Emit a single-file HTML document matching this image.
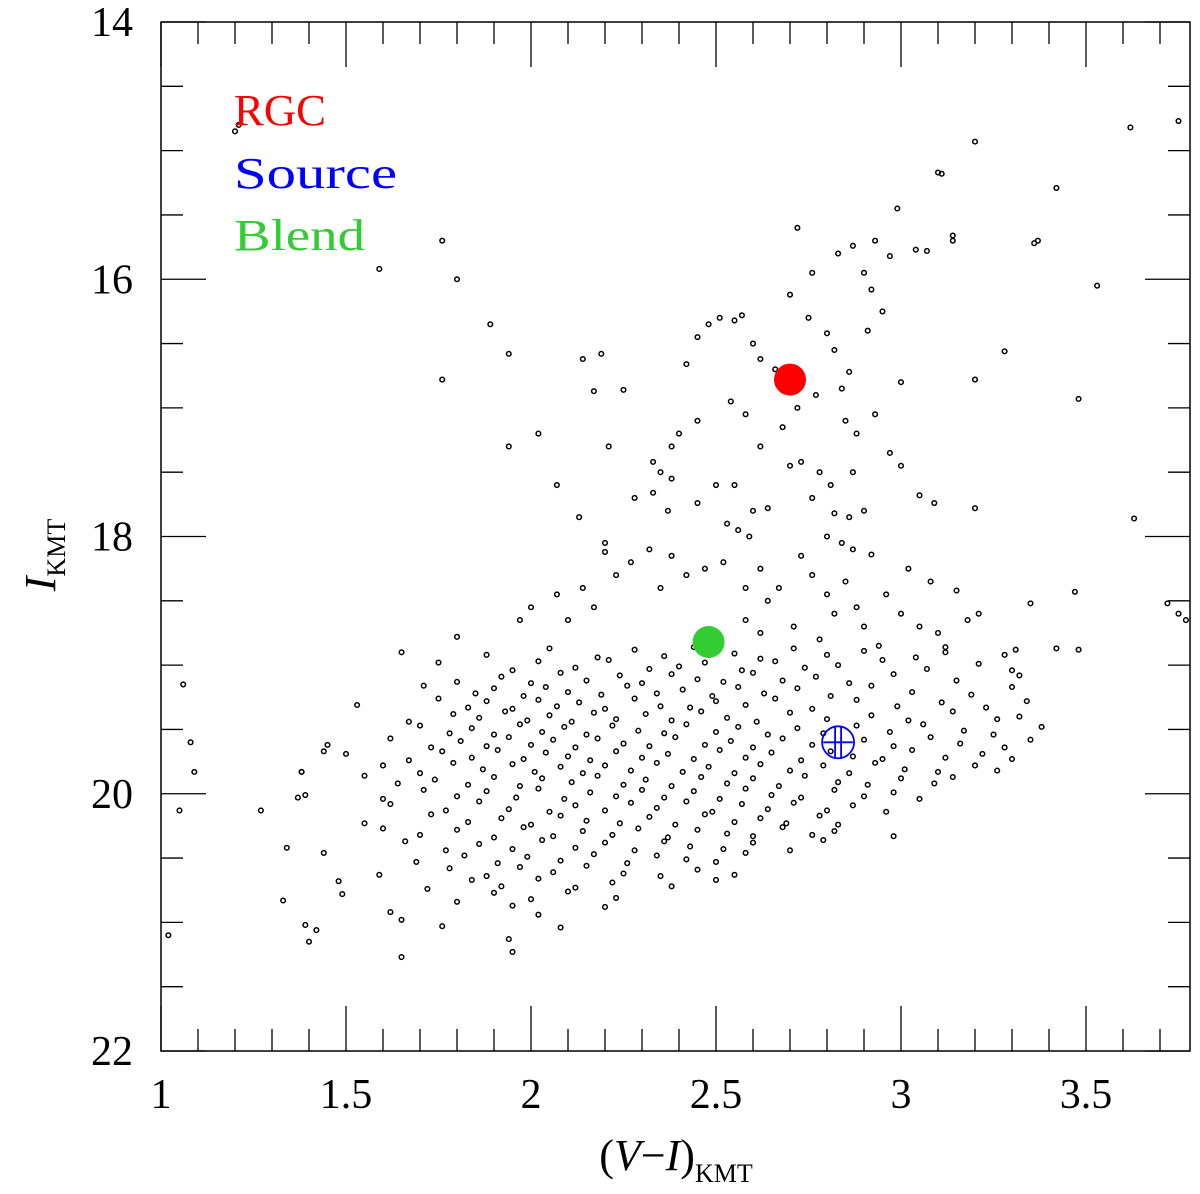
<!DOCTYPE html>
<html><head><meta charset="utf-8"><style>
html,body{margin:0;padding:0;background:#fff;width:1200px;height:1194px;overflow:hidden}
svg{display:block}
text{font-family:"Liberation Serif",serif}
</style></head><body>
<svg id="chart" width="1200" height="1194" viewBox="0 0 1200 1194" xmlns="http://www.w3.org/2000/svg"></svg>
<script>
const xTicks=[1,1.5,2,2.5,3,3.5];
const xTickLabels=["1","1.5","2","2.5","3","3.5"];
const yTicks=[14,16,18,20,22];
const yTickLabels=["14","16","18","20","22"];
const sparseColor=[1.2,1.21,3.2,3.62,3.75,3.1,3.11,3.42,2.99,3.14,3.14,3.37,3.36,1.76,1.59,1.8,3.04,3.07,2.93,2.87,2.83,2.72,2.76,2.9,2.97,2.92,3.53,2.7,2.95,2.91,1.89,1.94,2.14,2.19,2.51,2.55,2.57,2.45,2.48,2.75,2.8,3.28,3.2,3.0,3.48,1.76,2.17,2.25,2.42,2.6,2.62,2.66,2.82,2.86,2.77,2.84,2.72,2.85,2.88,2.93,2.68,2.58,2.54,2.45,2.4,2.38,2.62,2.7,2.73,2.78,2.81,2.87,2.97,3.0,3.05,3.09,3.2,3.63,1.94,2.02,2.21,2.33,2.35,2.38,2.07,2.28,2.33,2.37,2.45,2.5,2.55,2.6,2.64,2.53,2.56,2.59,2.86,2.9,2.76,2.82,2.8,2.84,2.87,2.92,3.02,3.08,3.15,3.21,3.18,3.35,3.47,3.48,3.42,3.72,3.75,3.77,2.13,2.2,2.2,2.27,2.32,2.38,2.23,2.14,2.07,2.0,1.97,2.1,2.17,2.35,2.42,2.47,2.52,2.58,2.62,2.64,2.67,2.73,2.76,2.8,2.85,2.88,2.96,3.0,3.05,3.1,3.12,2.9,2.94,2.82,2.78,2.71,2.62,2.58,1.8,1.65,1.06,1.08,1.09,1.05,1.27,1.38,1.37,1.44];
const sparseMag=[14.85,14.8,14.93,14.82,14.77,15.17,15.18,15.29,15.45,15.66,15.7,15.7,15.72,15.7,15.92,16.0,15.77,15.78,15.7,15.74,15.8,15.6,15.95,15.95,15.82,16.08,16.05,16.12,16.25,16.4,16.35,16.58,16.62,16.58,16.3,16.32,16.28,16.45,16.35,16.3,16.42,16.56,16.78,16.8,16.93,16.78,16.87,16.86,16.66,16.5,16.62,16.7,16.55,16.72,16.9,16.85,17.0,17.1,17.2,17.05,17.15,17.05,16.95,17.1,17.2,17.3,17.3,17.45,17.42,17.5,17.6,17.5,17.35,17.45,17.68,17.74,17.78,17.86,17.3,17.2,17.3,17.42,17.5,17.55,17.6,17.7,17.66,17.8,17.74,17.6,17.6,17.8,17.78,17.9,17.95,18.0,17.85,17.8,17.7,17.82,18.0,18.05,18.1,18.14,18.25,18.35,18.42,18.6,18.65,18.52,18.43,18.88,18.87,18.52,18.6,18.65,17.85,18.05,18.12,18.2,18.1,18.15,18.3,18.4,18.45,18.55,18.65,18.65,18.55,18.4,18.3,18.25,18.2,18.4,18.25,18.5,18.4,18.15,18.3,18.45,18.35,18.55,18.45,18.6,18.7,18.75,18.9,18.7,18.85,18.6,18.8,18.7,18.75,18.65,18.78,18.9,19.15,19.6,19.83,20.13,20.13,19.83,20.03,19.67];
const rowMags=[18.9,19.0,19.1,19.2,19.3,19.4,19.5,19.6,19.7,19.8,19.9,20.0,20.1,20.2,20.3,20.4,20.5,20.6,20.7,20.8,20.9,21.0,21.1,21.2];
const rowColors=[
[1.88,2.05,2.18,2.28,2.36,2.44,2.55,2.62,2.71,2.8,2.9,3.04,3.12,3.28,3.31],
[1.75,1.95,2.02,2.12,2.21,2.32,2.4,2.47,2.57,2.66,2.74,2.83,2.95,3.07,3.21,3.3],
[1.8,1.92,2.0,2.08,2.15,2.24,2.3,2.38,2.45,2.52,2.6,2.68,2.77,2.86,2.98,3.15,3.32],
[1.71,1.85,1.9,1.98,2.04,2.1,2.19,2.26,2.34,2.41,2.49,2.56,2.63,2.72,2.81,2.92,3.03,3.19,3.3],
[1.53,1.75,1.83,1.88,1.95,2.02,2.07,2.13,2.2,2.28,2.35,2.43,2.5,2.58,2.66,2.76,2.88,2.99,3.11,3.23,3.34],
[1.67,1.79,1.86,1.93,1.99,2.05,2.11,2.17,2.23,2.31,2.38,2.46,2.53,2.61,2.7,2.8,2.92,3.02,3.14,3.26,3.32],
[1.7,1.78,1.84,1.9,1.97,2.03,2.09,2.15,2.22,2.29,2.36,2.42,2.5,2.56,2.64,2.72,2.79,2.88,2.97,3.06,3.17,3.25,3.38],
[1.45,1.62,1.73,1.81,1.88,1.94,2.0,2.06,2.12,2.18,2.25,2.32,2.39,2.47,2.54,2.6,2.68,2.76,2.9,2.98,3.08,3.16,3.28,3.35],
[1.5,1.67,1.76,1.84,1.91,1.98,2.04,2.1,2.16,2.23,2.3,2.37,2.44,2.51,2.58,2.65,2.73,2.81,2.87,2.95,3.03,3.12,3.22,3.3],
[1.38,1.6,1.7,1.79,1.87,1.95,2.01,2.08,2.14,2.2,2.27,2.34,2.41,2.48,2.55,2.62,2.7,2.79,2.86,2.93,3.01,3.1,3.2,3.26],
[1.55,1.64,1.74,1.83,1.9,1.97,2.03,2.11,2.18,2.25,2.31,2.38,2.46,2.53,2.6,2.67,2.74,2.83,2.91,3.0,3.09,3.14],
[1.39,1.6,1.71,1.8,1.88,1.96,2.02,2.09,2.16,2.23,2.3,2.36,2.44,2.51,2.58,2.65,2.73,2.82,2.9,2.98,3.05],
[1.62,1.77,1.86,1.94,2.05,2.12,2.2,2.27,2.34,2.42,2.49,2.57,2.64,2.71,2.8,2.87,2.96],
[1.55,1.73,1.83,1.92,2.0,2.08,2.15,2.24,2.32,2.39,2.47,2.55,2.62,2.69,2.78,2.83],
[1.6,1.7,1.8,1.9,1.98,2.06,2.14,2.22,2.29,2.37,2.45,2.53,2.6,2.68,2.76,2.82,2.98],
[1.34,1.66,1.77,1.86,1.95,2.03,2.12,2.2,2.28,2.36,2.43,2.52,2.6,2.7,2.79],
[1.44,1.69,1.82,1.91,1.99,2.08,2.17,2.26,2.34,2.42,2.5,2.58],
[1.59,1.78,1.88,1.97,2.06,2.15,2.25,2.35,2.45,2.55],
[1.48,1.72,1.84,1.92,2.02,2.12,2.22,2.38,2.5],
[1.33,1.49,1.8,1.9,2.0,2.1,2.23],
[1.62,1.95,2.02,2.2],
[1.39,1.65,1.76,2.08],
[1.02,1.42,1.94],
[1.4,1.95,1.65]];
const rowOffsets=[
[0.02,-0.03,0.04,-0.02,0.03,-0.04,0.01,0.05,-0.03,0.02,-0.01,0.04,-0.04,0.02,-0.02],
[-0.02,0.04,-0.03,0.02,-0.04,0.03,0.01,-0.02,0.04,-0.03,0.02,0.0,-0.04,0.03,-0.01,0.04],
[0.03,-0.01,0.04,-0.04,0.02,-0.02,0.04,-0.03,0.01,0.03,-0.04,0.02,-0.01,0.04,-0.03,0.02,-0.02],
[-0.04,0.02,-0.02,0.04,-0.03,0.01,0.03,-0.04,0.02,-0.01,0.04,-0.03,0.02,-0.02,0.04,-0.04,0.01,0.03,-0.03],
[0.01,-0.04,0.03,-0.02,0.04,-0.03,0.02,-0.01,0.04,-0.04,0.02,0.03,-0.02,0.01,-0.04,0.04,-0.03,0.02,-0.01,0.03,-0.02],
[0.04,-0.02,0.01,-0.04,0.03,-0.01,0.04,-0.03,0.02,-0.02,0.03,-0.04,0.01,0.04,-0.03,0.02,-0.01,0.03,-0.04,0.02,0.0],
[-0.03,0.03,-0.01,0.04,-0.04,0.02,-0.02,0.04,-0.03,0.01,0.03,-0.04,0.02,-0.02,0.04,-0.01,0.03,-0.03,0.02,-0.04,0.01,0.04,-0.02],
[0.02,-0.03,0.04,-0.01,0.03,-0.04,0.02,-0.02,0.04,-0.03,0.01,0.03,-0.04,0.02,-0.01,0.04,-0.03,0.02,-0.02,0.03,-0.04,0.01,0.04,-0.02],
[-0.01,0.04,-0.03,0.02,-0.04,0.03,-0.02,0.01,0.04,-0.03,0.02,-0.01,0.03,-0.04,0.02,-0.02,0.04,-0.03,0.01,0.03,-0.04,0.02,-0.01,0.03],
[0.03,-0.02,0.04,-0.04,0.01,-0.03,0.03,-0.01,0.04,-0.02,0.02,-0.04,0.03,-0.01,0.04,-0.03,0.02,-0.02,0.04,-0.04,0.01,0.03,-0.02,0.02],
[-0.04,0.02,-0.01,0.03,-0.03,0.04,-0.02,0.01,-0.04,0.03,-0.01,0.04,-0.03,0.02,-0.02,0.04,-0.04,0.01,0.03,-0.02,0.02,-0.03],
[0.01,0.04,-0.03,0.02,-0.02,0.03,-0.04,0.04,-0.01,0.02,-0.03,0.03,-0.02,0.04,-0.04,0.01,0.03,-0.03,0.02,-0.01,0.04],
[-0.02,0.03,-0.04,0.02,0.04,-0.01,0.03,-0.03,0.01,-0.04,0.04,-0.02,0.02,-0.03,0.03,-0.01,0.04],
[0.03,-0.04,0.02,-0.01,0.04,-0.03,0.01,0.03,-0.02,0.04,-0.04,0.02,-0.01,0.03,-0.03,0.04],
[-0.03,0.02,-0.02,0.04,-0.04,0.03,-0.01,0.02,-0.03,0.04,-0.02,0.01,0.03,-0.04,0.02,-0.01,0.03],
[0.02,-0.03,0.04,-0.01,0.03,-0.04,0.02,-0.02,0.04,-0.03,0.01,0.03,-0.02,0.04,-0.04],
[-0.04,0.03,-0.02,0.04,-0.01,0.02,-0.03,0.04,-0.02,0.01,0.03,-0.04],
[0.03,-0.02,0.04,-0.03,0.01,-0.04,0.02,0.04,-0.01,0.03],
[-0.02,0.04,-0.03,0.02,-0.04,0.03,-0.01,0.02,-0.03],
[0.03,-0.02,0.04,-0.03,0.02,-0.04,0.01],
[0.02,-0.03,0.04,-0.02],
[0.02,-0.02,0.03,0.04],
[0.0,-0.04,0.03],
[-0.05,0.03,0.07]];
const rgcPoint=[2.70,16.78];
const sourcePoint=[2.83,19.6];
const sourceErr=[0.04,0.12];
const blendPoint=[2.48,18.82];

const NS="http://www.w3.org/2000/svg";
const svg=document.getElementById('chart');
const L=161,R=1190,T=22,B=1051,X0=1,X1=1+(R-L)/370,Y0=14,Y1=22;
const sx=v=>L+(v-X0)/(X1-X0)*(R-L);
const sy=v=>T+(v-Y0)/(Y1-Y0)*(B-T);
function mk(tag,attrs,parent){const e=document.createElementNS(NS,tag);for(const k in attrs)e.setAttribute(k,attrs[k]);(parent||svg).appendChild(e);return e;}

const pts=mk('g',{fill:'none',stroke:'#000','stroke-width':1.5});


function dot(c,m){const e=mk('circle',{cx:sx(c),cy:sy(m),r:2.3},pts);

}
sparseColor.forEach((c,i)=>dot(c,sparseMag[i]));
rowColors.forEach((row,i)=>row.forEach((c,j)=>dot(c,rowMags[i]+rowOffsets[i][j])));

const frame=mk('rect',{x:L,y:T,width:R-L,height:B-T,fill:'none',stroke:'#000','stroke-width':1.5});


const ticks=mk('g',{stroke:'#000','stroke-width':1.3});


for(let k=0;k<=27;k++){const v=1+k*0.1;const x=sx(v);const maj=(k%5===0);const len=maj?45:22;
mk('line',{x1:x,y1:B,x2:x,y2:B-len},ticks);mk('line',{x1:x,y1:T,x2:x,y2:T+len},ticks);}
for(let k=0;k<=16;k++){const v=14+k*0.5;const y=sy(v);const maj=(k%4===0);const len=maj?45:22;
mk('line',{x1:L,y1:y,x2:L+len,y2:y},ticks);mk('line',{x1:R,y1:y,x2:R-len,y2:y},ticks);}
xTicks.forEach((v,i)=>{const t=mk('text',{x:sx(v),y:1108,'font-size':42,'text-anchor':'middle',fill:'#000'});t.textContent=xTickLabels[i];

});
yTicks.forEach((v,i)=>{const t=mk('text',{x:133,y:sy(v)+14,'font-size':42,'text-anchor':'end',fill:'#000'});t.textContent=yTickLabels[i];

});

const rgc=mk('circle',{cx:sx(rgcPoint[0]),cy:sy(rgcPoint[1]),r:16,fill:'#ff0000'});


const bl=mk('circle',{cx:sx(blendPoint[0]),cy:sy(blendPoint[1]),r:16,fill:'#33cc33'});


const sg=mk('g',{stroke:'#0000ff','stroke-width':1.8,fill:'none'});


const scx=sx(sourcePoint[0]),scy=sy(sourcePoint[1]);
mk('circle',{cx:scx,cy:scy,r:16},sg);
mk('line',{x1:sx(sourcePoint[0]-sourceErr[0]),y1:scy,x2:sx(sourcePoint[0]+sourceErr[0]),y2:scy},sg);
mk('line',{x1:scx-3,y1:sy(sourcePoint[1]-sourceErr[1]),x2:scx-3,y2:sy(sourcePoint[1]+sourceErr[1])},sg);
mk('line',{x1:scx+3,y1:sy(sourcePoint[1]-sourceErr[1]),x2:scx+3,y2:sy(sourcePoint[1]+sourceErr[1])},sg);
</script>
<svg style="position:absolute;left:0;top:0" width="1200" height="1194">
<text x="234" y="125" font-size="44" fill="#ff0000" textLength="92" lengthAdjust="spacingAndGlyphs" style="font-family:'Liberation Serif',serif">RGC</text>
<text x="234" y="188" font-size="44" fill="#0000ff" textLength="163" lengthAdjust="spacingAndGlyphs" style="font-family:'Liberation Serif',serif">Source</text>
<text x="234" y="250" font-size="44" fill="#33cc33" textLength="131" lengthAdjust="spacingAndGlyphs" style="font-family:'Liberation Serif',serif">Blend</text>
<g transform="translate(55,555) rotate(-90)">
<text x="0" y="0" font-size="44" text-anchor="middle" style="font-family:'Liberation Serif',serif"><tspan font-style="italic">I</tspan><tspan font-size="26" dy="10">KMT</tspan></text>
</g>
<text x="676" y="1170" font-size="44" text-anchor="middle" style="font-family:'Liberation Serif',serif">(<tspan font-style="italic">V</tspan>−<tspan font-style="italic">I</tspan>)<tspan font-size="26" dy="12">KMT</tspan></text>
</svg>
</body></html>
